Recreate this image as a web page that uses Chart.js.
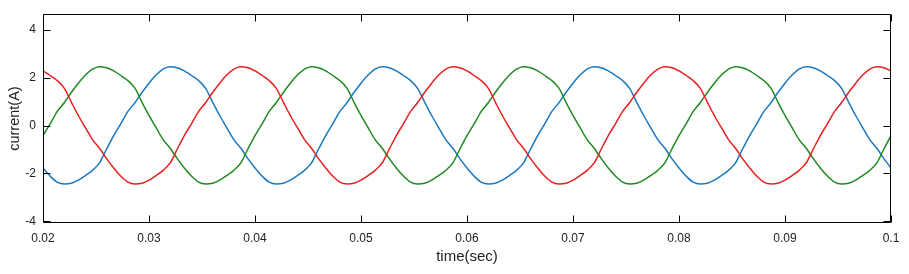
<!DOCTYPE html>
<html lang="en">
<head>
<meta charset="UTF-8">
<title>Three-phase current</title>
<script src="https://cdn.jsdelivr.net/npm/chart.js"></script>
<style>
  body { margin: 0; background: #fff; }
  #wrap { width: 909px; height: 274px; }
</style>
</head>
<body>
<div id="wrap"><canvas id="chart" width="909" height="274"></canvas></div>
<script>
// sample times (s)
const times = [
  0.02000, 0.02067, 0.02133, 0.02200, 0.02267, 0.02333, 0.02400, 0.02467, 0.02533, 0.02600,
  0.02667, 0.02733, 0.02800, 0.02867, 0.02933, 0.03000, 0.03067, 0.03133, 0.03200, 0.03267,
  0.03333, 0.03400, 0.03467, 0.03533, 0.03600, 0.03667, 0.03733, 0.03800, 0.03867, 0.03933,
  0.04000, 0.04067, 0.04133, 0.04200, 0.04267, 0.04333, 0.04400, 0.04467, 0.04533, 0.04600,
  0.04667, 0.04733, 0.04800, 0.04867, 0.04933, 0.05000, 0.05067, 0.05133, 0.05200, 0.05267,
  0.05333, 0.05400, 0.05467, 0.05533, 0.05600, 0.05667, 0.05733, 0.05800, 0.05867, 0.05933,
  0.06000, 0.06067, 0.06133, 0.06200, 0.06267, 0.06333, 0.06400, 0.06467, 0.06533, 0.06600,
  0.06667, 0.06733, 0.06800, 0.06867, 0.06933, 0.07000, 0.07067, 0.07133, 0.07200, 0.07267,
  0.07333, 0.07400, 0.07467, 0.07533, 0.07600, 0.07667, 0.07733, 0.07800, 0.07867, 0.07933,
  0.08000, 0.08067, 0.08133, 0.08200, 0.08267, 0.08333, 0.08400, 0.08467, 0.08533, 0.08600,
  0.08667, 0.08733, 0.08800, 0.08867, 0.08933, 0.09000, 0.09067, 0.09133, 0.09200, 0.09267,
  0.09333, 0.09400, 0.09467, 0.09533, 0.09600, 0.09667, 0.09733, 0.09800, 0.09867, 0.09933,
  0.10000
];

// phase currents (A)
const green = [
  -0.42,
  0.07, 0.58, 0.95, 1.38, 1.77, 2.11, 2.36, 2.46, 2.41, 2.28, 2.09, 1.88, 1.56, 0.98, 0.42,
  -0.09, -0.59, -0.95, -1.38, -1.77, -2.11, -2.36, -2.44, -2.41, -2.28, -2.09, -1.87, -1.56, -0.98, -0.42,
  0.07, 0.58, 0.95, 1.38, 1.77, 2.11, 2.36, 2.46, 2.41, 2.28, 2.09, 1.88, 1.56, 0.98, 0.42,
  -0.09, -0.59, -0.95, -1.38, -1.77, -2.11, -2.36, -2.44, -2.41, -2.28, -2.09, -1.87, -1.56, -0.98, -0.42,
  0.07, 0.58, 0.95, 1.38, 1.77, 2.11, 2.36, 2.46, 2.41, 2.28, 2.09, 1.88, 1.56, 0.98, 0.42,
  -0.09, -0.59, -0.95, -1.38, -1.77, -2.11, -2.36, -2.44, -2.41, -2.28, -2.09, -1.87, -1.56, -0.98, -0.42,
  0.07, 0.58, 0.95, 1.38, 1.77, 2.11, 2.36, 2.46, 2.41, 2.28, 2.09, 1.88, 1.56, 0.98, 0.42,
  -0.09, -0.59, -0.95, -1.38, -1.77, -2.11, -2.36, -2.44, -2.41, -2.28, -2.09, -1.87, -1.56, -0.98, -0.42
];
const blue = [
  -1.77, -2.11, -2.36, -2.44, -2.41, -2.28, -2.09, -1.87, -1.56, -0.98, -0.42,
  0.07, 0.58, 0.95, 1.38, 1.77, 2.11, 2.36, 2.46, 2.41, 2.28, 2.09, 1.88, 1.56, 0.98, 0.42,
  -0.09, -0.59, -0.95, -1.38, -1.77, -2.11, -2.36, -2.44, -2.41, -2.28, -2.09, -1.87, -1.56, -0.98, -0.42,
  0.07, 0.58, 0.95, 1.38, 1.77, 2.11, 2.36, 2.46, 2.41, 2.28, 2.09, 1.88, 1.56, 0.98, 0.42,
  -0.09, -0.59, -0.95, -1.38, -1.77, -2.11, -2.36, -2.44, -2.41, -2.28, -2.09, -1.87, -1.56, -0.98, -0.42,
  0.07, 0.58, 0.95, 1.38, 1.77, 2.11, 2.36, 2.46, 2.41, 2.28, 2.09, 1.88, 1.56, 0.98, 0.42,
  -0.09, -0.59, -0.95, -1.38, -1.77, -2.11, -2.36, -2.44, -2.41, -2.28, -2.09, -1.87, -1.56, -0.98, -0.42,
  0.07, 0.58, 0.95, 1.38, 1.77, 2.11, 2.36, 2.46, 2.41, 2.28, 2.09, 1.88, 1.56, 0.98, 0.42,
  -0.09, -0.59, -0.95, -1.38, -1.77
];
const red = [
  2.28, 2.09, 1.88, 1.56, 0.98, 0.42,
  -0.09, -0.59, -0.95, -1.38, -1.77, -2.11, -2.36, -2.44, -2.41, -2.28, -2.09, -1.87, -1.56, -0.98, -0.42,
  0.07, 0.58, 0.95, 1.38, 1.77, 2.11, 2.36, 2.46, 2.41, 2.28, 2.09, 1.88, 1.56, 0.98, 0.42,
  -0.09, -0.59, -0.95, -1.38, -1.77, -2.11, -2.36, -2.44, -2.41, -2.28, -2.09, -1.87, -1.56, -0.98, -0.42,
  0.07, 0.58, 0.95, 1.38, 1.77, 2.11, 2.36, 2.46, 2.41, 2.28, 2.09, 1.88, 1.56, 0.98, 0.42,
  -0.09, -0.59, -0.95, -1.38, -1.77, -2.11, -2.36, -2.44, -2.41, -2.28, -2.09, -1.87, -1.56, -0.98, -0.42,
  0.07, 0.58, 0.95, 1.38, 1.77, 2.11, 2.36, 2.46, 2.41, 2.28, 2.09, 1.88, 1.56, 0.98, 0.42,
  -0.09, -0.59, -0.95, -1.38, -1.77, -2.11, -2.36, -2.44, -2.41, -2.28, -2.09, -1.87, -1.56, -0.98, -0.42,
  0.07, 0.58, 0.95, 1.38, 1.77, 2.11, 2.36, 2.46, 2.41, 2.28
];

const xTicks = [0.02, 0.03, 0.04, 0.05, 0.06, 0.07, 0.08, 0.09, 0.1];
const yTicks = [-4, -2, 0, 2, 4];

function series(vals) {
  return times.map((t, i) => ({ x: t, y: vals[i] }));
}

// matlab style box with inward ticks on all four sides
const frame = {
  id: 'frame',
  afterDatasetsDraw(chart) {
    const { ctx, chartArea: a, scales: { x, y } } = chart;
    const L = Math.round(a.left) + 0.5, R = Math.round(a.right) - 0.5;
    const T = Math.round(a.top) + 0.5, B = Math.round(a.bottom) - 0.5;
    ctx.save();
    ctx.strokeStyle = '#000';
    ctx.lineWidth = 1;
    ctx.beginPath();
    ctx.rect(L, T, R - L, B - T);
    xTicks.forEach(v => {
      const px = Math.round(x.getPixelForValue(v)) + 0.5;
      ctx.moveTo(px, B); ctx.lineTo(px, B - 7);
      ctx.moveTo(px, T); ctx.lineTo(px, T + 7);
    });
    yTicks.forEach(v => {
      const py = Math.round(y.getPixelForValue(v)) + 0.5;
      ctx.moveTo(L, py); ctx.lineTo(L + 7, py);
      ctx.moveTo(R, py); ctx.lineTo(R - 7, py);
    });
    ctx.stroke();
    ctx.restore();
  }
};

const font = "'Liberation Sans', Arial, sans-serif";

new Chart(document.getElementById('chart'), {
  type: 'line',
  data: {
    datasets: [
      { label: 'ia', data: series(red), borderColor: '#e3201c' },
      { label: 'ib', data: series(green), borderColor: '#1f8a22' },
      { label: 'ic', data: series(blue), borderColor: '#1a78c0' }
    ]
  },
  options: {
    responsive: false,
    animation: false,
    devicePixelRatio: 1,
    layout: { padding: { top: 9, right: 18, left: 0, bottom: 0 } },
    elements: {
      point: { radius: 0 },
      line: { borderWidth: 1.5, tension: 0, cubicInterpolationMode: 'monotone' }
    },
    plugins: { legend: { display: false }, tooltip: { enabled: false } },
    scales: {
      x: {
        type: 'linear',
        min: 0.02,
        max: 0.1,
        afterBuildTicks: s => { s.ticks = xTicks.map(v => ({ value: v })); },
        afterFit: s => { s.height = 51; },
        grid: { display: false, drawTicks: false },
        border: { display: false },
        ticks: {
          color: '#222',
          font: { family: font, size: 12 },
          padding: 8,
          maxRotation: 0,
          callback: v => String(parseFloat(v.toFixed(2)))
        },
        title: {
          display: true,
          text: 'time(sec)',
          color: '#222',
          font: { family: font, size: 15 },
          padding: { top: 0, bottom: 8 }
        }
      },
      y: {
        min: -4.07,
        max: 4.65,
        afterBuildTicks: s => { s.ticks = yTicks.map(v => ({ value: v })); },
        afterFit: s => { s.width = 43; },
        grid: { display: false, drawTicks: false },
        border: { display: false },
        ticks: {
          color: '#222',
          font: { family: font, size: 12 },
          padding: 7
        },
        title: {
          display: true,
          text: 'current(A)',
          color: '#222',
          font: { family: font, size: 14.5 },
          padding: { top: 6, bottom: 0 }
        }
      }
    }
  },
  plugins: [frame]
});
</script>
</body>
</html>
